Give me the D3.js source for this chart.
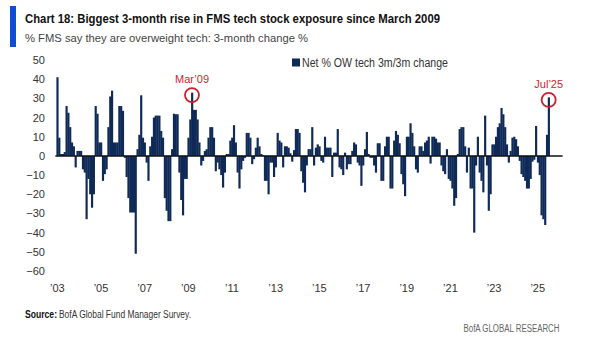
<!DOCTYPE html>
<html>
<head>
<meta charset="utf-8">
<script src="https://cdn.jsdelivr.net/npm/d3@7"></script>
<style>
  body { margin: 0; background: #fff; }
  text { font-family: "Liberation Sans", Arial, sans-serif; }
</style>
</head>
<body>
<div class="canvas"></div>
<script>
// Net % OW tech, 3m/3m change, one value per month (Jan 2003 .. Jul 2025)
const y2003 = [41, 9.5, 1, 1, 2, 26, 22.5, 15, 7, 5, -6, 2.6];
const y2004 = [2.6, 2.6, -7, -8.7, -33, -12, -20, -27, -20, 26, 22, 7];
const y2005 = [7, -13, -9.5, -7, 15, 31, 34, 7, 7, 7, 26, 26];
const y2006 = [23.5, -1, -11, -22, -29.5, -29.5, -29.5, -51, 3.5, 11, 31.6, 9.5];
const y2007 = [7, -3.5, -13, 5, 10, 20, 21, 21, 21, 13, 9.5, -22];
const y2008 = [-28.6, -34, -34, 3.5, 22, 21.7, 21.7, -8.7, -23, -31, -12, -12];
const y2009 = [9.5, 19, 33, 24, 24, 19, 7, -5, -2.6, 2.6, 3.5, 9.5];
const y2010 = [15, 15, 9.5, -8, -3.5, -7, -10, -16.5, -8.7, 1, 1, 8];
const y2011 = [9.5, 16, 7, -8.7, -17, -7, -2.6, -1, 12, 12, 9.5, -4.3];
const y2012 = [-1.7, 4.3, 9.5, 5, 1, 0.5, -13, -13, -20, -3.5, -3.5, -11];
const y2013 = [-6, 12, 8, 7, -6, 5, 5, 4.3, 1.4, -3, 3, 14];
const y2014 = [14, 12, -8, -14, -19, -5, 3.5, 3.5, 15, -5, 4.3, 6];
const y2015 = [5, -2.6, -3.5, 10, 4.3, 4.3, 4.3, -11, 1.7, 1.7, 14, -6];
const y2016 = [-7, -10, 1.7, -7, -4.3, -4.3, 2.6, 7, 6, -3.5, -5, -15.6];
const y2017 = [-5, 3.5, 12.5, 1, -1, -1, -5, -8.7, 6.6, 6.6, -13, -13];
const y2018 = [5, 10, 10, -17, -17, 8, 13, 11, 6.6, -9.5, -14.8, -21];
const y2019 = [10, 10, 17, 12, 5, -7, -8.7, 5, 5, 2.6, 7, 8];
const y2020 = [10, -4, 10, 10, 9, 7, 7, -5, -8, -9.5, 3.5, -12];
const y2021 = [-13, -17, -26, -22, 1, 14, 15, 15, 5, -8.7, 4.3, -17];
const y2022 = [-17, -40, -5, 10, -8.7, -13, -19, 21, -5, -28.6, -20, 6];
const y2023 = [6, 10, 15, 17, 25, 21.7, 15, 6, -3.5, 2.6, 9.5, 10];
const y2024 = [8.7, 5, -2.6, -9.5, -11, -13, -17, -17, -12, -3, -2, 15.6];
const y2025 = [-3.5, -10, -31, -33, -36, 11, 30.5];

const netOW = [].concat(y2003, y2004, y2005, y2006, y2007, y2008, y2009, y2010,
    y2011, y2012, y2013, y2014, y2015, y2016, y2017, y2018, y2019, y2020,
    y2021, y2022, y2023, y2024, y2025);

const yTicks = [50, 40, 30, 20, 10, 0, -10, -20, -30, -40, -50, -60];
const xTickMonths = ['2003-01', '2005-01', '2007-01', '2009-01', '2011-01', '2013-01',
    '2015-01', '2017-01', '2019-01', '2021-01', '2023-01', '2025-01'];
const xTickLabels = ['’03', '’05', '’07', '’09', '’11', '’13', '’15', '’17', '’19', '’21', '’23', '’25'];
const callouts = [
    {month: '2009-03', label: 'Mar’09'},
    {month: '2025-07', label: 'Jul’25'}
];

const fmt = d3.timeFormat('%Y-%m');
const months = d3.timeMonth.range(new Date(2003, 0, 1), new Date(2025, 7, 1)).map(fmt);
const data = months.map((m, i) => ({month: m, value: netOW[i]}));

const width = 600;
const height = 339;
const navy = '#0f2a57';
const red = '#cc1f2d';

const svg = d3.select('.canvas')
    .append('svg')
    .attr('width', width)
    .attr('height', height);

const fit = (sel, w) => sel.attr('textLength', w).attr('lengthAdjust', 'spacingAndGlyphs');

// header
svg.append('rect')
    .attr('x', 10).attr('y', 6)
    .attr('width', 6).attr('height', 41)
    .attr('fill', '#0d4fcf');

svg.append('text')
    .attr('x', 25).attr('y', 22.5)
    .attr('font-size', 12.5).attr('font-weight', 'bold').attr('fill', '#111')
    .text('Chart 18: Biggest 3-month rise in FMS tech stock exposure since March 2009')
    .call(fit, 415);

svg.append('text')
    .attr('x', 25).attr('y', 41.5)
    .attr('font-size', 11).attr('fill', '#444')
    .text('% FMS say they are overweight tech: 3-month change %')
    .call(fit, 283);

// scales
const x = d3.scaleBand()
    .domain(months)
    .range([56.4, 549.6])
    .padding(0);

const y = d3.scaleLinear()
    .domain([-60, 50])
    .range([271, 60]);

// bars
svg.append('g')
    .selectAll('rect')
    .data(data)
    .enter()
    .append('rect')
        .attr('x', d => x(d.month))
        .attr('width', x.bandwidth() + 0.35)
        .attr('y', d => y(Math.max(0, d.value)))
        .attr('height', d => Math.abs(y(d.value) - y(0)))
        .attr('fill', navy);

// zero line
svg.append('line')
    .attr('x1', x.range()[0] - 1)
    .attr('x2', x.range()[1] + 13)
    .attr('y1', y(0)).attr('y2', y(0))
    .attr('stroke', '#111')
    .attr('stroke-width', 1.5);

// axes
const yAxis = d3.axisLeft(y)
    .tickValues(yTicks)
    .tickSize(0)
    .tickPadding(3);

const xAxis = d3.axisBottom(x)
    .tickValues(xTickMonths)
    .tickFormat((d, i) => xTickLabels[i])
    .tickSize(0)
    .tickPadding(3);

const yAxisGroup = svg.append('g')
    .attr('transform', 'translate(48, 0)')
    .call(yAxis);

const xAxisGroup = svg.append('g')
    .attr('transform', 'translate(0, 281)')
    .call(xAxis);

[yAxisGroup, xAxisGroup].forEach(g => {
    g.select('.domain').remove();
    g.selectAll('text')
        .attr('font-size', 11)
        .attr('font-family', '"Liberation Sans", Arial, sans-serif')
        .attr('fill', '#333');
});

// legend
svg.append('rect')
    .attr('x', 292).attr('y', 58.5)
    .attr('width', 8).attr('height', 8)
    .attr('fill', navy);

svg.append('text')
    .attr('x', 302).attr('y', 66.5)
    .attr('font-size', 12).attr('fill', '#333')
    .text('Net % OW tech 3m/3m change')
    .call(fit, 146);

// red callouts
const valueOf = m => data.find(d => d.month === m).value;

const marks = svg.append('g')
    .selectAll('g')
    .data(callouts)
    .enter()
    .append('g')
        .attr('transform', d => `translate(${x(d.month) + x.bandwidth() / 2}, ${y(valueOf(d.month)) + 2.5})`);

marks.append('circle')
    .attr('r', 7)
    .attr('fill', 'none')
    .attr('stroke', red)
    .attr('stroke-width', 1.8);

marks.append('text')
    .attr('y', -12)
    .attr('text-anchor', 'middle')
    .attr('font-size', 11)
    .attr('fill', red)
    .text(d => d.label);

// footer
svg.append('text')
    .attr('x', 25).attr('y', 317.5)
    .attr('font-size', 10).attr('font-weight', 'bold').attr('fill', '#111')
    .text('Source:')
    .call(fit, 32);

svg.append('text')
    .attr('x', 59).attr('y', 317.5)
    .attr('font-size', 10).attr('fill', '#333')
    .text('BofA Global Fund Manager Survey.')
    .call(fit, 132);

svg.append('text')
    .attr('x', 463.5).attr('y', 332)
    .attr('font-size', 10).attr('fill', '#666')
    .text('BofA GLOBAL RESEARCH')
    .call(fit, 96);
</script>
</body>
</html>
